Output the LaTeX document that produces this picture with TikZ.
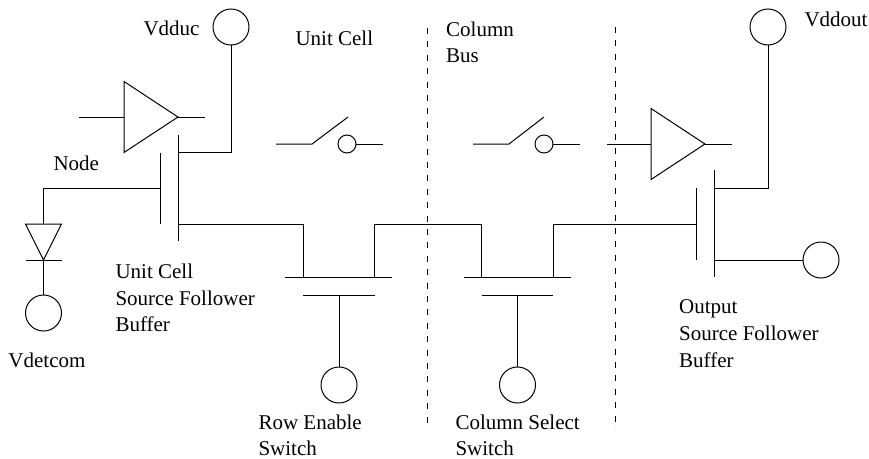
\documentclass[tikz,border=0pt]{standalone}
\usepackage{fontspec}
\setmainfont{Liberation Serif}
\usepackage{tikz}
\usetikzlibrary{shapes.geometric}

\begin{document}
\begin{tikzpicture}[
      x=1pt, y=-1pt,
      line width=1pt,
      pad/.style   ={circle, draw, minimum size=36pt, inner sep=0pt, outer sep=0pt},
      smallpad/.style={circle, draw, minimum size=18pt, inner sep=0pt, outer sep=0pt},
      buffer/.style={isosceles triangle, isosceles triangle stretches, draw, anchor=apex,
                     minimum height=54pt, minimum width=71pt, inner sep=0pt, outer sep=0pt},
      diode/.style ={isosceles triangle, isosceles triangle stretches, draw, anchor=apex,
                     shape border rotate=-90,
                     minimum height=36pt, minimum width=36pt, inner sep=0pt, outer sep=0pt},
      lbl/.style   ={anchor=base west, inner sep=0pt,
                     font=\fontsize{21}{26}\selectfont},
      boundary/.style={dash pattern=on 6pt off 7.4pt}
    ]
    \useasboundingbox (0,0) rectangle (869,458);

    % Vdd pad and unit cell source follower
    \node[pad] (VDU) at (231,27) {};
    \coordinate (DU)  at (178,152);
    \coordinate (SU)  at (178,224);
    \coordinate (CU1) at (178,135);
    \coordinate (CU2) at (178,241);
    \coordinate (GU1) at (160,153);
    \coordinate (GU2) at (160,224);
    \coordinate (GU)  at (160,188);
    \draw (CU1) -- (CU2);
    \draw (GU1) -- (GU2);
    \draw (VDU) |- (DU);

    % Detector diode
    \node[diode] (D1) at (43.5,260) {};
    \node[pad]   (VDC) at (43.5,313) {};
    \coordinate (D1a) at (25.5,260);
    \coordinate (D1b) at (61.5,260);
    \draw (D1a) -- (D1b);
    \draw (GU) -| (D1.lower side);
    \draw (D1.apex) -- (VDC);

    % Buffers
    \node[buffer] (B1) at (178,117) {};
    \coordinate (B1i) at (79,117);
    \coordinate (B1o) at (205,117);
    \draw (B1i) -- (B1.lower side);
    \draw (B1.apex) -- (B1o);
    \node[buffer] (B2) at (705,144) {};
    \coordinate (B2i) at (607,144);
    \coordinate (B2o) at (732,144);
    \draw (B2i) -- (B2.lower side);
    \draw (B2.apex) -- (B2o);

    % Row enable switch
    \coordinate (R1) at (285,277);
    \coordinate (R2) at (392,277);
    \coordinate (RD) at (303,277);
    \coordinate (RS) at (374.5,277);
    \coordinate (RG1) at (303,295);
    \coordinate (RG2) at (374.5,295);
    \coordinate (RG)  at (339,295);
    \node[pad] (RP) at (339,385) {};
    \draw (R1) -- (R2);
    \draw (RG1) -- (RG2);
    \draw (RG) -- (RP);

    % Column select switch
    \coordinate (C1) at (464,277);
    \coordinate (C2) at (571,277);
    \coordinate (CD) at (481.5,277);
    \coordinate (CS) at (553,277);
    \coordinate (CG1) at (481.5,295);
    \coordinate (CG2) at (553,295);
    \coordinate (CG)  at (517.5,295);
    \node[pad] (CP) at (517.5,385) {};
    \draw (C1) -- (C2);
    \draw (CG1) -- (CG2);
    \draw (CG) -- (CP);

    % Output source follower
    \node[pad] (VDO) at (768,27) {};
    \node[pad] (OP)  at (821,260) {};
    \coordinate (DO)  at (714,188);
    \coordinate (SO)  at (714,260);
    \coordinate (CO1) at (714,170);
    \coordinate (CO2) at (714,277);
    \coordinate (GO1) at (696,188);
    \coordinate (GO2) at (696,260);
    \coordinate (GO)  at (696,224);
    \draw (CO1) -- (CO2);
    \draw (GO1) -- (GO2);
    \draw (VDO) |- (DO);
    \draw (SO) -- (OP);

    % Signal path
    \coordinate (BUS1) at (374.5,224);
    \coordinate (BUS2) at (553,224);
    \draw (SU) -| (RD);
    \draw (RS) -- (BUS1) -| (CD);
    \draw (CS) -- (BUS2) -- (GO);

    % Open switches
    \coordinate (S1a) at (276,144);
    \coordinate (S1b) at (312,144);
    \coordinate (S1c) at (348,117);
    \coordinate (S1o) at (383,144);
    \node[smallpad] (S1p) at (347,144) {};
    \draw (S1a) -- (S1b) -- (S1c);
    \draw (S1p) -- (S1o);
    \coordinate (S2a) at (473,144);
    \coordinate (S2b) at (509,144);
    \coordinate (S2c) at (544,117);
    \coordinate (S2o) at (580,144);
    \node[smallpad] (S2p) at (544,144) {};
    \draw (S2a) -- (S2b) -- (S2c);
    \draw (S2p) -- (S2o);

    % Region boundaries
    \coordinate (L1a) at (427.7,28);
    \coordinate (L1b) at (427.7,429);
    \coordinate (L2a) at (615.7,27);
    \coordinate (L2b) at (615.7,429);
    \draw[boundary] (L1a) -- (L1b);
    \draw[boundary] (L2a) -- (L2b);

    % Labels
    \node[lbl] (tVDU) at (143,35)  {Vdduc};
    \node[lbl] (tND)  at (53,170)  {Node};
    \node[lbl] (tUC)  at (295,45)  {Unit Cell};
    \node[lbl] (tCB1) at (445.7,36) {Column};
    \node[lbl] (tCB2) at (445.7,62.5) {Bus};
    \node[lbl] (tVDO) at (804,26)  {Vddout};
    \node[lbl] (tVDC) at (8,367)   {Vdetcom};
    \node[lbl] (tU1)  at (115,278) {Unit Cell};
    \node[lbl] (tU2)  at (115,305) {Source Follower};
    \node[lbl] (tU3)  at (115,331) {Buffer};
    \node[lbl] (tR1)  at (258,429) {Row Enable};
    \node[lbl] (tR2)  at (258,455) {Switch};
    \node[lbl] (tC1)  at (455,429) {Column Select};
    \node[lbl] (tC2)  at (455,455) {Switch};
    \node[lbl] (tO1)  at (678.7,313) {Output};
    \node[lbl] (tO2)  at (678.7,340) {Source Follower};
    \node[lbl] (tO3)  at (678.7,367) {Buffer};
\end{tikzpicture}
\end{document}
